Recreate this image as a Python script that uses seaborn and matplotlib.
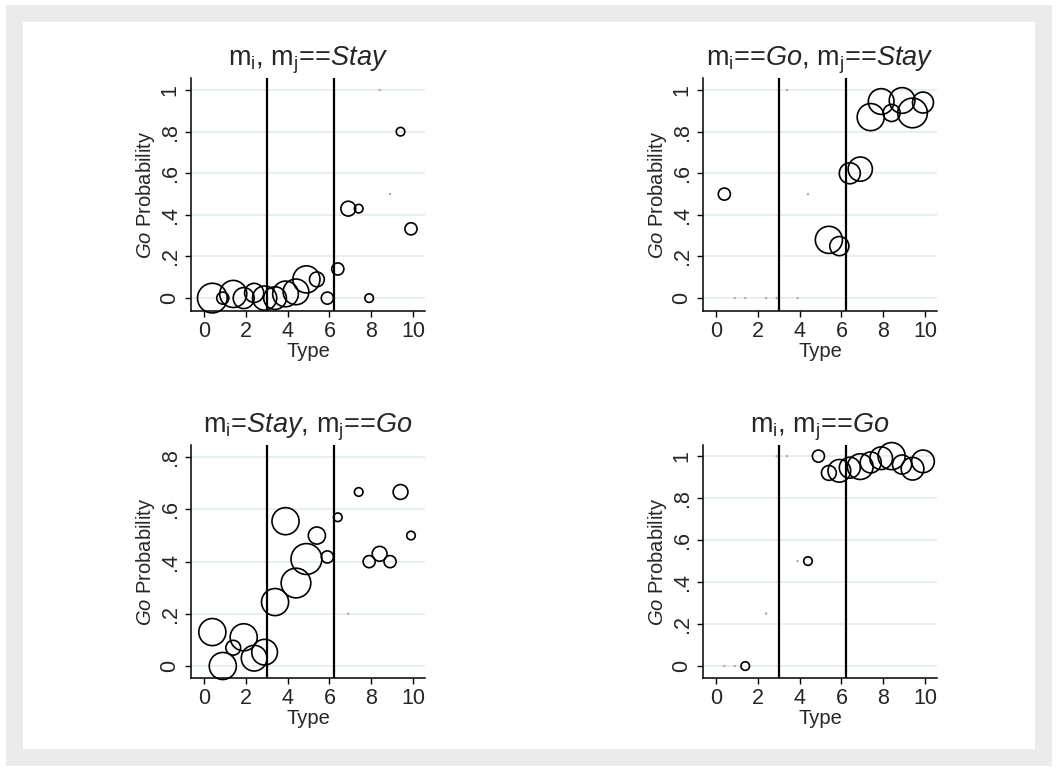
import numpy as np
import pandas as pd
import matplotlib
matplotlib.use("Agg")
import matplotlib.pyplot as plt
import seaborn as sns
from matplotlib.patches import Rectangle

sns.set_theme(style="white")
plt.rcParams['font.family'] = ['Liberation Sans', 'DejaVu Sans']
plt.rcParams['mathtext.fontset'] = 'custom'
plt.rcParams['mathtext.rm'] = 'Liberation Sans'
plt.rcParams['mathtext.it'] = 'Liberation Sans:italic'
plt.rcParams['mathtext.bf'] = 'Liberation Sans:bold'

# ---------------- data ----------------
titles = [
    r"m$_\mathrm{i}$, m$_\mathrm{j}$==$\mathit{Stay}$",
    r"m$_\mathrm{i}$==$\mathit{Go}$, m$_\mathrm{j}$==$\mathit{Stay}$",
    r"m$_\mathrm{i}$=$\mathit{Stay}$, m$_\mathrm{j}$==$\mathit{Go}$",
    r"m$_\mathrm{i}$, m$_\mathrm{j}$==$\mathit{Go}$",
]

# panel 1: m_i, m_j == Stay   (n = 0 -> tiny speck)
p1_type = [0.4, 0.9, 1.4, 1.9, 2.4, 2.9, 3.4, 3.9, 4.4, 4.9, 5.4, 5.9, 6.4, 6.9, 7.4, 7.9, 8.4, 8.9, 9.4, 9.9]
p1_prob = [0.0, 0.0, 0.02, 0.0, 0.025, 0.0, 0.0, 0.02, 0.03, 0.09, 0.09, 0.0, 0.14, 0.43, 0.43, 0.0, 1.0, 0.5, 0.8, 0.333]
p1_n    = [12, 2, 10, 6, 5, 8, 7, 9, 9, 10, 3, 2, 2, 3, 1, 1, 0, 0, 1, 2]

# panel 2: m_i == Go, m_j == Stay
p2_type = [0.4, 0.9, 1.4, 2.4, 2.9, 3.4, 3.9, 4.4, 5.4, 5.9, 6.4, 6.9, 7.4, 7.9, 8.4, 8.9, 9.4, 9.9]
p2_prob = [0.5, 0.0, 0.0, 0.0, 0.0, 1.0, 0.0, 0.5, 0.28, 0.25, 0.6, 0.62, 0.87, 0.945, 0.89, 0.95, 0.89, 0.94]
p2_n    = [2, 0, 0, 0, 0, 0, 0, 0, 10, 5, 6, 8, 10, 9, 4, 9, 12, 6]

# panel 3: m_i = Stay, m_j == Go
p3_type = [0.4, 0.9, 1.4, 1.9, 2.4, 2.9, 3.4, 3.9, 4.4, 4.9, 5.4, 5.9, 6.4, 6.9, 7.4, 7.9, 8.4, 8.9, 9.4, 9.9]
p3_prob = [0.13, 0.0, 0.07, 0.11, 0.03, 0.053, 0.245, 0.555, 0.318, 0.41, 0.5, 0.418, 0.57, 0.2, 0.667, 0.4, 0.43, 0.4, 0.667, 0.5]
p3_n    = [10, 10, 3, 10, 9, 9, 10, 10, 12, 13, 4, 2, 1, 0, 1, 2, 3, 2, 3, 1]

# panel 4: m_i, m_j == Go
p4_type = [0.4, 0.9, 1.4, 2.4, 2.9, 3.4, 3.9, 4.4, 4.9, 5.4, 5.9, 6.4, 6.9, 7.4, 7.9, 8.4, 8.9, 9.4, 9.9]
p4_prob = [0.0, 0.0, 0.0, 0.25, 1.0, 1.0, 0.5, 0.5, 1.0, 0.92, 0.93, 0.945, 0.95, 0.97, 0.99, 1.0, 0.96, 0.94, 0.975]
p4_n    = [0, 0, 1, 0, 0, 0, 0, 1, 2, 3, 7, 6, 9, 6, 7, 10, 5, 7, 7]

x_ticks = [0, 2, 4, 6, 8, 10]
y_ticks_full = [0, 0.2, 0.4, 0.6, 0.8, 1.0]
y_labels_full = ["0", ".2", ".4", ".6", ".8", "1"]
y_ticks_p3 = [0, 0.2, 0.4, 0.6, 0.8]
y_labels_p3 = ["0", ".2", ".4", ".6", ".8"]
cutoffs = [3.0, 6.2]

panels = [
    (p1_type, p1_prob, p1_n, y_ticks_full, y_labels_full, (-0.062, 1.058)),
    (p2_type, p2_prob, p2_n, y_ticks_full, y_labels_full, (-0.062, 1.058)),
    (p3_type, p3_prob, p3_n, y_ticks_p3, y_labels_p3, (-0.046, 0.847)),
    (p4_type, p4_prob, p4_n, y_ticks_full, y_labels_full, (-0.057, 1.053)),
]

W, H = 1058, 771
fig = plt.figure(figsize=(W / 100, H / 100), dpi=100)
fig.patch.set_facecolor("white")
# outer gray frame + inner white panel
fig.patches.append(Rectangle((6 / W, 1 - 766 / H), (1052 - 6) / W, (766 - 5) / H,
                             transform=fig.transFigure, facecolor="#ebebeb", edgecolor="none", zorder=-10))
fig.patches.append(Rectangle((23 / W, 1 - 749 / H), (1035 - 23) / W, (749 - 22) / H,
                             transform=fig.transFigure, facecolor="white", edgecolor="none", zorder=-9))

boxes = [
    (191, 78, 425, 311),
    (703, 78, 937, 311),
    (191, 445, 425, 678),
    (703, 445, 937, 678),
]

n_min, n_max = 1, 13
s_unit = 38.0

for i, ((xs, ys, ns, yt, yl, ylim), (l, t, r, b)) in enumerate(zip(panels, boxes)):
    ax = fig.add_axes([l / W, 1 - b / H, (r - l) / W, (b - t) / H])
    df = pd.DataFrame({"Type": xs, "Prob": ys, "n": ns})
    big = df[df["n"] > 0]
    tiny = df[df["n"] == 0]

    for yv in yt:
        ax.axhline(yv, color="#e6eef0", lw=1.3, zorder=0)
    for c in cutoffs:
        ax.axvline(c, color="black", lw=1.6, zorder=1)

    sns.scatterplot(data=big, x="Type", y="Prob", size="n",
                    sizes=(s_unit * n_min, s_unit * n_max), size_norm=(n_min, n_max),
                    facecolors="none", edgecolor="black", linewidth=1.2,
                    legend=False, ax=ax, zorder=3, clip_on=False)
    if len(tiny):
        sns.scatterplot(data=tiny, x="Type", y="Prob", s=3, color="#aaaaaa",
                        edgecolor="none", legend=False, ax=ax, zorder=2)

    ax.set_xlim(-0.62, 10.57)
    ax.set_ylim(*ylim)
    ax.set_xticks(x_ticks)
    ax.set_xticklabels([str(v) for v in x_ticks])
    ax.set_yticks(yt)
    ax.set_yticklabels(yl, rotation=90, va="center")
    ax.tick_params(axis="both", which="both", direction="out", length=4.5, width=1,
                   color="black", labelsize=15.5, pad=3, bottom=True, left=True)
    for sp in ["top", "right"]:
        ax.spines[sp].set_visible(False)
    for sp in ["left", "bottom"]:
        ax.spines[sp].set_color("black")
        ax.spines[sp].set_linewidth(1.1)
    ax.set_facecolor("white")
    ax.grid(False)
    ax.set_xlabel("Type", fontsize=14.5, labelpad=0)
    ax.set_ylabel(r"$\mathit{Go}$ Probability", fontsize=14.5, labelpad=2)
    ax.set_title(titles[i], fontsize=19.5, pad=9)

fig.savefig("out.png", dpi=100, facecolor="white")
